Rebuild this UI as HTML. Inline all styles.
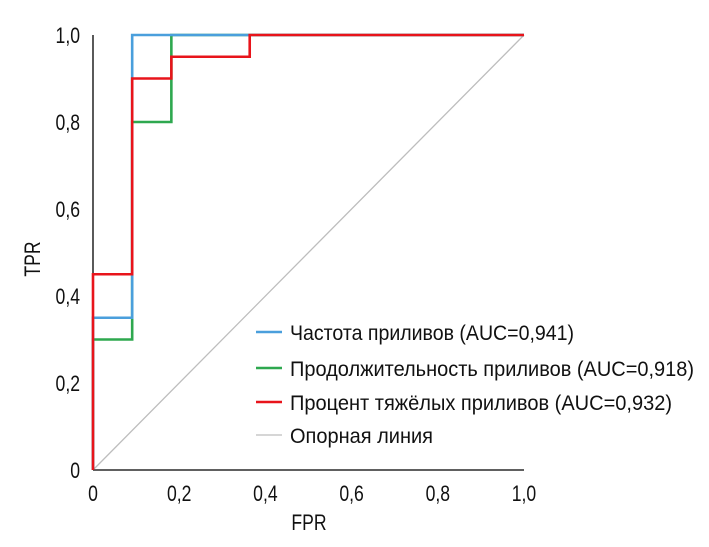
<!DOCTYPE html>
<html><head><meta charset="utf-8"><style>
html,body{margin:0;padding:0;background:#fff}
svg{display:block;font-family:"Liberation Sans Narrow","Liberation Sans",sans-serif}
</style></head><body>
<svg id="chart" width="709" height="547" viewBox="0 0 709 547" xmlns="http://www.w3.org/2000/svg">
<g id="grid"></g>
<g id="marks"></g>
<g id="legend"></g>
</svg>
<script>
const xTicks=[0,0.2,0.4,0.6,0.8,1.0];
const xTickLabels=["0","0,2","0,4","0,6","0,8","1,0"];
const yTicks=[0,0.2,0.4,0.6,0.8,1.0];
const yTickLabels=["0","0,2","0,4","0,6","0,8","1,0"];
const blueX=[0,0,0.0909,0.0909,1];
const blueY=[0,0.35,0.35,1,1];
const greenX=[0,0,0.0909,0.0909,0.1818,0.1818,1];
const greenY=[0,0.3,0.3,0.8,0.8,1,1];
const redX=[0,0,0.0909,0.0909,0.1818,0.1818,0.3636,0.3636,1];
const redY=[0,0.45,0.45,0.9,0.9,0.95,0.95,1,1];
const refX=[0,1];
const refY=[0,1];
const seriesNames=["Частота приливов (AUC=0,941)","Продолжительность приливов (AUC=0,918)","Процент тяжёлых приливов (AUC=0,932)","Опорная линия"];

const NS="http://www.w3.org/2000/svg";
const X0=93,X1=524,Y0=470,Y1=35;
const sx=v=>X0+(X1-X0)*v;
const sy=v=>Y0-(Y0-Y1)*v;
const marks=document.getElementById('marks');
const legend=document.getElementById('legend');
function mk(tag,attrs,parent){const e=document.createElementNS(NS,tag);for(const k in attrs)e.setAttribute(k,attrs[k]);parent.appendChild(e);return e;}

const ref=mk('polyline',{points:refX.map((x,i)=>sx(x)+','+sy(refY[i])).join(' '),fill:'none',stroke:'#bdbdbd','stroke-width':1.3},marks);



const ax=mk('line',{x1:X0,y1:Y0,x2:X1,y2:Y0,stroke:'#000','stroke-width':1.3},marks);


const ay=mk('line',{x1:X0,y1:Y0,x2:X0,y2:Y1,stroke:'#000','stroke-width':1.3},marks);



const series=[[greenX,greenY,'#2ea84f','green-roc-line'],[blueX,blueY,'#4a9fdc','blue-roc-line'],[redX,redY,'#e8141b','red-roc-line']];
series.forEach(s=>{
  const p=mk('polyline',{points:s[0].map((x,i)=>sx(x)+','+sy(s[1][i])).join(' '),fill:'none',stroke:s[2],'stroke-width':2.6,'stroke-linejoin':'miter'},marks);
  
  
});

xTicks.forEach((v,i)=>{
  const t=mk('text',{x:sx(v),y:501,'text-anchor':'middle','font-size':22,fill:'#111'},marks);
  t.textContent=xTickLabels[i];
  t.setAttribute('transform',`translate(${sx(v)},0) scale(0.8,1) translate(${-sx(v)},0)`);
  
  
});
yTicks.forEach((v,i)=>{
  const t=mk('text',{x:80,y:sy(v)+8,'text-anchor':'end','font-size':22,fill:'#111'},marks);
  t.textContent=yTickLabels[i];
  t.setAttribute('transform',`translate(80,0) scale(0.8,1) translate(-80,0)`);
  
  
});

const xt=mk('text',{x:309,y:530,'text-anchor':'middle','font-size':22,fill:'#111'},marks);
xt.textContent='FPR';
xt.setAttribute('transform','translate(309,0) scale(0.8,1) translate(-309,0)');


const yt=mk('text',{x:0,y:0,'text-anchor':'middle','font-size':22,fill:'#111',transform:'translate(40,259) rotate(-90) scale(0.8,1)'},marks);
yt.textContent='TPR';



const legColors=['#4a9fdc','#2ea84f','#e8141b','#bdbdbd'];
const legY=[332,368,402,435];
const legW=[284,404,382,143];
seriesNames.forEach((n,i)=>{
  const l=mk('line',{x1:256,y1:legY[i],x2:282,y2:legY[i],stroke:legColors[i],'stroke-width':i==3?1.3:2.6},legend);
  
  
  const t=mk('text',{x:290,y:legY[i]+8,'font-size':21,fill:'#111',textLength:legW[i],lengthAdjust:'spacingAndGlyphs'},legend);
  t.textContent=n;
  
  
});
</script>
</body></html>
